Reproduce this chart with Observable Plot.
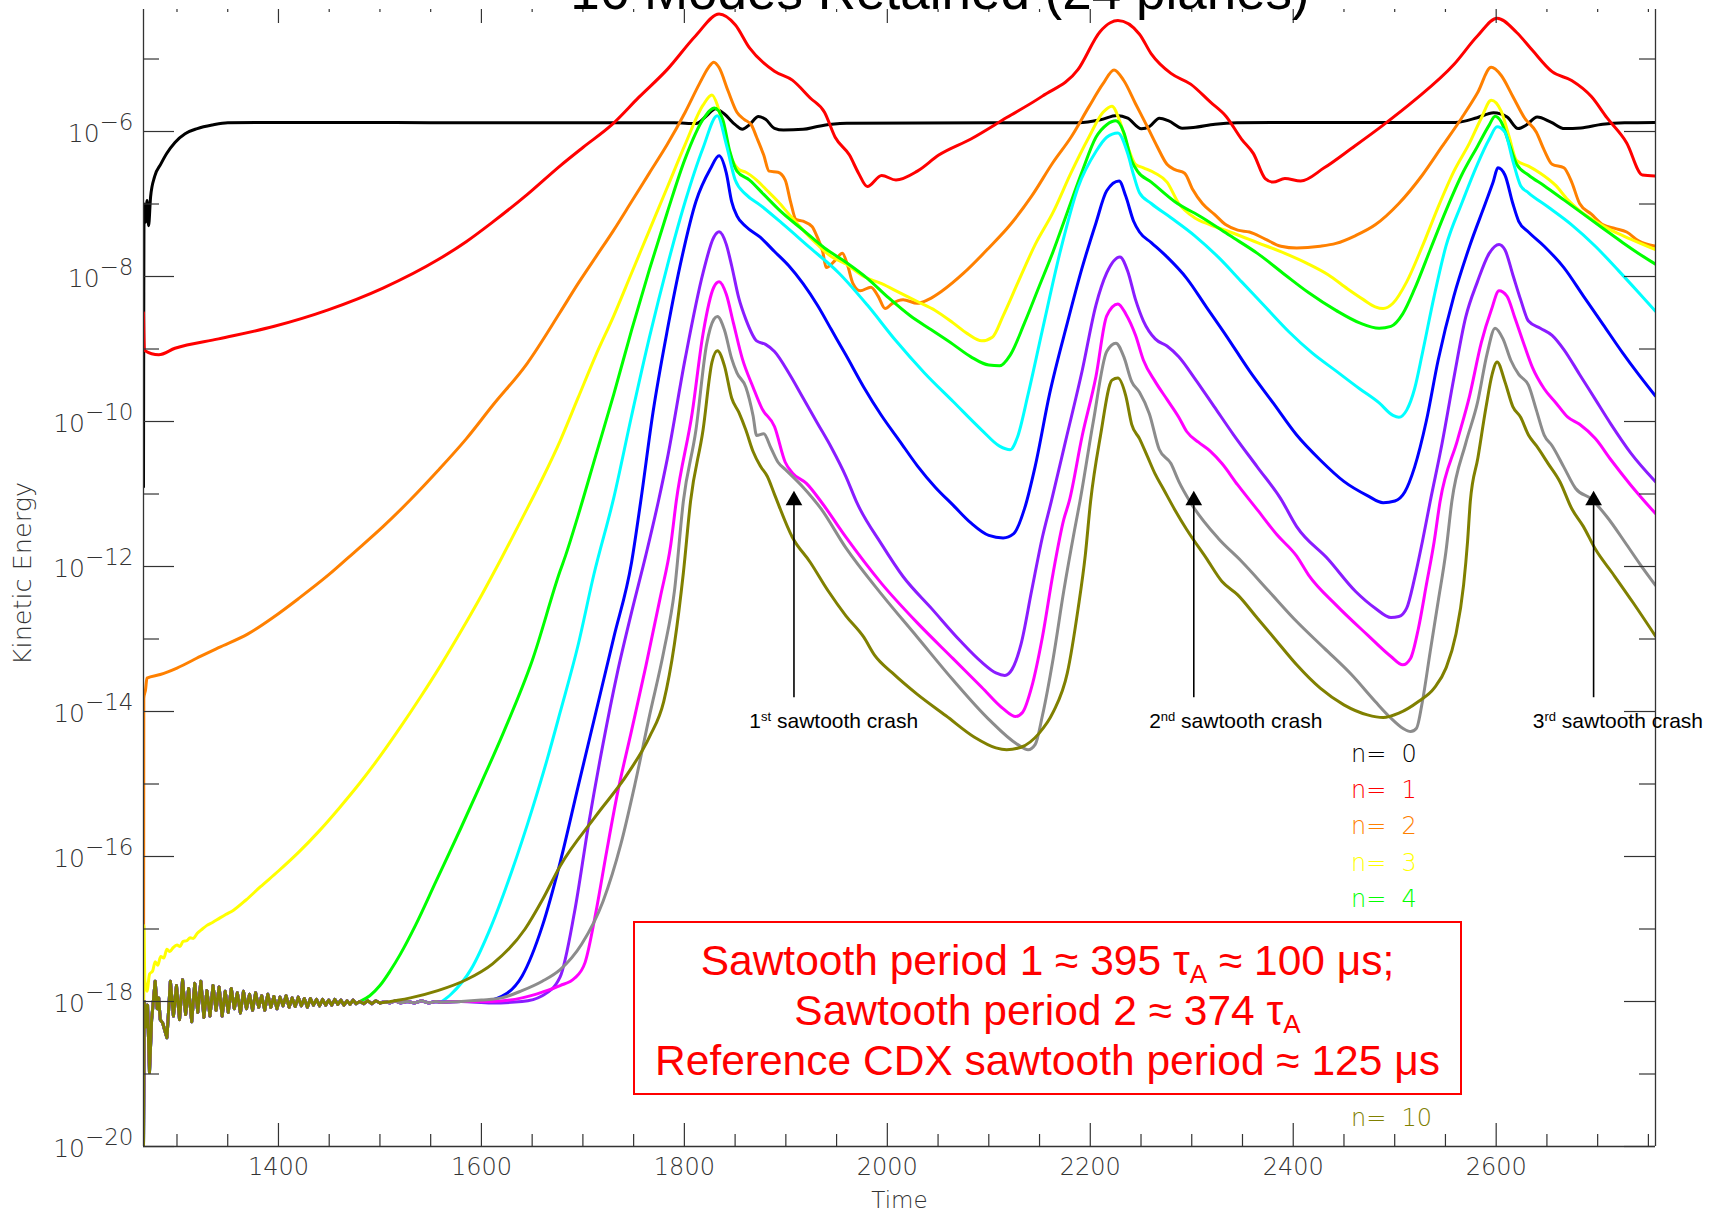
<!DOCTYPE html>
<html><head><meta charset="utf-8">
<script src="https://cdn.jsdelivr.net/npm/d3@7"></script>
<script src="https://cdn.jsdelivr.net/npm/@observablehq/plot@0.6"></script>
<style>
html,body{margin:0;padding:0;background:#fff;}
#wrap{position:relative;width:1716px;height:1217px;overflow:hidden;background:#fff;}
#chart{position:absolute;left:0;top:0;}
#cover{position:absolute;left:0;top:0;width:1716px;height:9px;background:#fff;z-index:2;}
#title{position:absolute;left:940px;top:-36px;transform:translateX(-50%);font-family:"Liberation Sans",Arial,sans-serif;font-size:53px;line-height:53px;color:#000;white-space:nowrap;z-index:3;}
.leg{position:absolute;font-family:"DejaVu Sans",sans-serif;font-weight:200;font-size:24px;line-height:24px;white-space:pre;z-index:4;}
#box{position:absolute;left:633px;top:921px;width:829px;height:174px;box-sizing:border-box;border:2px solid #f00;background:#fff;color:#f00;font-family:"Liberation Sans",Arial,sans-serif;font-size:42.5px;line-height:50px;text-align:center;padding-top:13px;z-index:5;white-space:nowrap;}
.sub{font-size:26px;position:relative;top:8px;line-height:0;}
</style>
</head><body>
<div id="wrap">
  <div id="chart"></div>
  <div id="cover"></div>
  <div id="title">16 Modes Retained (24 planes)</div>
  <div id="box">Sawtooth period 1 ≈ 395 τ<span class="sub">A</span> ≈ 100 μs;<br>Sawtooth period 2 ≈ 374 τ<span class="sub">A</span><br>Reference CDX sawtooth period ≈ 125 μs</div>
</div>
<script>
// ---- data: [time, log10(kinetic energy)] ----
const modes = [0,1,2,3,4,5,6,7,8,9,10];
const modeColors = ["#000000","#ff0000","#ff8000","#ffff00","#00ff00","#00ffff","#0000ff","#8a1cff","#ff00ff","#8c8c8c","#808000"];

const xMajor = [1400,1600,1800,2000,2200,2400,2600];
const xMinor = [1300,1350,1450,1500,1550,1650,1700,1750,1850,1900,1950,2050,2100,2150,2250,2300,2350,2450,2500,2550,2650,2700,2750];
const yMajorExp = [-6,-8,-10,-12,-14,-16,-18,-20];
const yMinorExp = [-5,-7,-9,-11,-13,-15,-17,-19];

const crashT = [1908, 2302, 2696];
const crashLabelT = [1864, 2258, 2636];
const crashOrdinal = ["1st","2nd","3rd"];
const arrowLowExp = -13.81, arrowTipExp = -10.95, crashLabelExp = -14.14;

const n0 = [[1267,-10.9],[1267.6,-7.0],[1269,-7.25],[1270.5,-6.95],[1272,-7.3],[1274,-6.9],[1278,-6.62],[1284,-6.45],[1290,-6.3],[1298,-6.15],[1308,-6.03],[1320,-5.96],[1335,-5.91],[1350,-5.88],[1400,-5.875],[1500,-5.875],[1600,-5.88],[1700,-5.88],[1790,-5.88],[1811.4,-5.89],[1821.9,-5.783],[1830.7,-5.685],[1839.5,-5.759],[1850.1,-5.906],[1857.1,-5.97],[1864.2,-5.906],[1873,-5.793],[1880,-5.832],[1888.8,-5.956],[1897.6,-5.98],[1917,-5.97],[1931,-5.931],[1945.1,-5.9],[1960,-5.885],[2100,-5.88],[2188.5,-5.88],[2210,-5.839],[2226.2,-5.779],[2236.9,-5.816],[2250.4,-5.963],[2258.4,-5.931],[2268.1,-5.816],[2277.3,-5.853],[2290.7,-5.954],[2301.5,-5.945],[2323,-5.899],[2344.5,-5.88],[2400,-5.875],[2500,-5.875],[2559.7,-5.875],[2581.2,-5.81],[2597.4,-5.74],[2610.8,-5.8],[2621.6,-5.96],[2629.7,-5.91],[2640.4,-5.8],[2653.9,-5.87],[2667.3,-5.96],[2683.5,-5.95],[2705,-5.9],[2726.5,-5.88],[2757,-5.875]];

const n1 = [[1267,-8.5],[1268,-9.02],[1282,-9.08],[1298,-8.99],[1341,-8.86],[1395,-8.69],[1449,-8.46],[1503,-8.16],[1557,-7.77],[1585,-7.52],[1611,-7.25],[1645,-6.87],[1677.6,-6.473],[1700,-6.22],[1728.6,-5.906],[1755,-5.53],[1783.2,-5.143],[1811.4,-4.675],[1834.2,-4.379],[1850.1,-4.527],[1864.2,-4.847],[1888.8,-5.168],[1906.4,-5.291],[1924,-5.537],[1938.1,-5.734],[1948.6,-6.079],[1962.7,-6.325],[1971.5,-6.571],[1980.3,-6.759],[1994.4,-6.606],[2008.5,-6.67],[2029.6,-6.547],[2050.7,-6.325],[2082.4,-6.103],[2117.6,-5.808],[2152.8,-5.512],[2188,-5.143],[2209.8,-4.62],[2219.7,-4.5],[2227.2,-4.47],[2248.5,-4.658],[2260.1,-4.929],[2279.5,-5.199],[2298.9,-5.346],[2318.2,-5.592],[2333.7,-5.789],[2349.2,-6.108],[2360.8,-6.305],[2372.4,-6.649],[2380.2,-6.698],[2391.8,-6.649],[2407.3,-6.683],[2430.5,-6.501],[2457.6,-6.231],[2488.6,-5.912],[2519.6,-5.568],[2558.3,-5.076],[2581.5,-4.683],[2600.9,-4.437],[2620.2,-4.634],[2635.7,-4.88],[2655.1,-5.174],[2674.4,-5.297],[2693.8,-5.518],[2709.3,-5.813],[2728.6,-6.157],[2744.1,-6.6],[2757,-6.614]];

const n2 = [[1267,-19.9],[1267.3,-13.82],[1269,-13.7],[1270.4,-13.54],[1283.5,-13.49],[1300,-13.4],[1323,-13.24],[1341,-13.12],[1370,-12.93],[1395,-12.7],[1420,-12.44],[1449,-12.12],[1475,-11.8],[1503,-11.45],[1530,-11.08],[1557,-10.68],[1585,-10.24],[1611,-9.78],[1645,-9.2],[1677.6,-8.493],[1695.2,-8.099],[1712.8,-7.729],[1730.4,-7.36],[1748,-6.966],[1765.6,-6.571],[1783.2,-6.177],[1800.8,-5.734],[1814.9,-5.34],[1823.7,-5.118],[1829,-5.044],[1834.2,-5.118],[1843,-5.438],[1851.8,-5.734],[1858.9,-5.832],[1865.9,-5.906],[1871.2,-6.079],[1878.2,-6.325],[1883.5,-6.547],[1892.3,-6.562],[1899.4,-6.67],[1904.6,-6.966],[1909.9,-7.212],[1916.9,-7.237],[1925.8,-7.31],[1931,-7.458],[1936.3,-7.655],[1939.8,-7.877],[1948.6,-7.778],[1955.7,-7.68],[1961,-7.852],[1966.2,-8.099],[1973.3,-8.197],[1983.8,-8.148],[1990.9,-8.271],[1997.9,-8.443],[2005,-8.37],[2015.5,-8.32],[2029.6,-8.37],[2040.2,-8.32],[2054.2,-8.197],[2075.4,-7.951],[2100,-7.606],[2121.1,-7.286],[2142.2,-6.892],[2163.4,-6.424],[2181,-6.079],[2198.6,-5.66],[2212.6,-5.34],[2223.4,-5.15],[2233,-5.297],[2244.6,-5.617],[2256.3,-5.936],[2265.9,-6.206],[2275.6,-6.452],[2283.4,-6.526],[2293,-6.575],[2300.8,-6.796],[2310.5,-6.993],[2322.1,-7.14],[2333.7,-7.287],[2345.3,-7.361],[2356.9,-7.386],[2372.4,-7.484],[2387.9,-7.582],[2403.4,-7.607],[2426.6,-7.582],[2442.1,-7.543],[2461.5,-7.435],[2480.8,-7.287],[2504.1,-6.993],[2527.3,-6.6],[2546.7,-6.206],[2566,-5.813],[2581.5,-5.469],[2595.1,-5.115],[2604.8,-5.224],[2616.4,-5.516],[2628,-5.813],[2639.6,-6.01],[2647.3,-6.256],[2655.1,-6.452],[2666.7,-6.501],[2674.4,-6.698],[2682.2,-6.993],[2693.8,-7.14],[2705.4,-7.287],[2717,-7.337],[2728.6,-7.386],[2740.3,-7.509],[2757,-7.582]];

const n3 = [[1267,-20],[1267.4,-16.95],[1268.3,-17.7],[1270.4,-17.86],[1273,-17.62],[1276,-17.58],[1278.5,-17.45],[1281,-17.5],[1284,-17.38],[1287,-17.4],[1290.1,-17.28],[1293,-17.31],[1296,-17.26],[1300,-17.22],[1303,-17.24],[1306,-17.17],[1309.8,-17.16],[1313,-17.12],[1316,-17.13],[1320,-17.06],[1325,-17.0],[1329.5,-16.95],[1335,-16.91],[1342,-16.85],[1348,-16.8],[1355.7,-16.74],[1368,-16.6],[1382,-16.42],[1400,-16.2],[1420,-15.94],[1440,-15.65],[1460,-15.33],[1480,-14.99],[1500,-14.62],[1520,-14.22],[1540,-13.8],[1560,-13.36],[1580,-12.89],[1600,-12.4],[1620,-11.88],[1640,-11.34],[1660,-10.79],[1677.6,-10.266],[1695.2,-9.675],[1712.8,-9.084],[1730.4,-8.542],[1748,-7.951],[1765.6,-7.36],[1783.2,-6.769],[1800.8,-6.177],[1818.4,-5.636],[1827.2,-5.498],[1832.5,-5.636],[1839.5,-6.03],[1846.6,-6.374],[1853.6,-6.522],[1860.6,-6.562],[1871.2,-6.67],[1881.8,-6.818],[1892.3,-6.966],[1902.9,-7.138],[1917,-7.36],[1931,-7.557],[1945.1,-7.729],[1959.2,-7.828],[1976.8,-8.0],[1994.4,-8.099],[2012,-8.222],[2029.6,-8.345],[2047.2,-8.468],[2064.8,-8.64],[2078.9,-8.788],[2093,-8.887],[2103.5,-8.837],[2114.1,-8.542],[2128.2,-8.099],[2145.8,-7.557],[2163.4,-7.113],[2181,-6.571],[2198.6,-6.079],[2212.6,-5.734],[2221.4,-5.65],[2229.2,-5.862],[2236.9,-6.206],[2244.6,-6.452],[2252.4,-6.501],[2264,-6.575],[2275.6,-6.698],[2287.2,-6.993],[2302.7,-7.189],[2318.2,-7.287],[2337.6,-7.386],[2364.7,-7.533],[2391.8,-7.681],[2415,-7.828],[2434.4,-7.975],[2453.7,-8.172],[2469.2,-8.319],[2480.8,-8.418],[2488.6,-8.442],[2498.3,-8.369],[2511.8,-8.074],[2527.3,-7.582],[2542.8,-7.042],[2558.3,-6.55],[2573.8,-6.157],[2585.4,-5.813],[2595.1,-5.568],[2604.8,-5.715],[2612.5,-6.059],[2620.2,-6.403],[2631.8,-6.477],[2643.5,-6.575],[2658.9,-6.747],[2670.6,-6.943],[2682.2,-7.091],[2697.7,-7.238],[2713.2,-7.361],[2732.5,-7.484],[2757,-7.63]];

// early noisy band shared by the higher modes (n = 4 ... 10)
const noiseBand = [[1267,-20],[1267.7,-18.0],[1269.5,-18.35],[1271,-18.05],[1272.9,-18.98],[1275,-18.25],[1277,-17.95],[1278.5,-17.72],[1280.5,-18.1],[1282,-17.95],[1283.5,-18.25],[1286,-18.3],[1288,-18.4],[1290.1,-18.5],[1293.5,-17.72],[1296.5,-18.2],[1299.5,-17.78],[1302.5,-18.25],[1305.5,-17.7],[1308.5,-18.18],[1311.5,-17.82],[1314.5,-18.28],[1317.5,-17.75],[1320.5,-18.15],[1323.5,-17.72],[1326.5,-18.22],[1329.5,-17.85],[1332.5,-18.2],[1335.5,-17.78],[1338.5,-18.12],[1341.5,-17.8],[1344.5,-18.2],[1347.5,-17.86],[1350.5,-18.15],[1353.5,-17.82],[1356.5,-18.1],[1359.5,-17.88],[1362.5,-18.16],[1365.5,-17.86],[1368.5,-18.1],[1371.5,-17.9],[1374.5,-18.12],[1377.5,-17.88],[1380.5,-18.08],[1383.5,-17.92],[1386.5,-18.12],[1389.5,-17.9],[1392.5,-18.08],[1395.5,-17.93],[1398.5,-18.1],[1401.5,-17.94],[1404.5,-18.06],[1407.5,-17.92],[1410.5,-18.08],[1413.5,-17.95],[1416.5,-18.07],[1419.5,-17.94],[1422.5,-18.06],[1425.5,-17.96],[1428.5,-18.08],[1431.5,-17.96],[1434.5,-18.05],[1437.5,-17.97],[1440.5,-18.06],[1443.5,-17.97],[1446.5,-18.05],[1449.5,-17.98],[1452.5,-18.05],[1455.5,-17.97],[1458.5,-18.04],[1461.5,-17.98],[1464.5,-18.05],[1467.5,-17.99],[1470.5,-18.04],[1473.5,-17.98],[1476.5,-18.03],[1480,-18.0],[1484,-18.03],[1488,-17.99],[1492,-18.03],[1496,-17.99],[1500,-18.02],[1505,-18.0],[1510,-18.02],[1515,-17.99],[1520,-18.02],[1527,-18.0],[1534,-18.02],[1541,-17.99],[1548,-18.02],[1555,-18.0],[1560,-18.01]];

const n4Rise = [[1490,-17.92],[1500,-17.78],[1510,-17.58],[1520,-17.35],[1535,-16.95],[1555,-16.35],[1580,-15.6],[1600,-14.98],[1622,-14.28],[1650,-13.3],[1677.6,-12.06],[1682.9,-11.85],[1695.2,-11.301],[1712.8,-10.463],[1730.4,-9.626],[1748,-8.739],[1765.6,-7.902],[1783.2,-7.113],[1800.8,-6.374],[1818.4,-5.833],[1829.7,-5.675],[1837.8,-5.833],[1844.8,-6.276],[1851.8,-6.547],[1864.2,-6.67],[1878.2,-6.867],[1895.8,-7.113],[1917,-7.36],[1938.1,-7.606],[1959.2,-7.803],[1980.3,-8.025],[2001.4,-8.296],[2022.6,-8.542],[2043.7,-8.739],[2064.8,-8.936],[2082.4,-9.108],[2100,-9.222],[2110.6,-9.232],[2121.1,-9.084],[2135.2,-8.64],[2149.3,-8.148],[2163.4,-7.655],[2177.4,-7.113],[2191.5,-6.571],[2205.6,-6.079],[2216.2,-5.906],[2225.3,-5.853],[2233,-6.01],[2240.8,-6.403],[2246.6,-6.55],[2260.1,-6.698],[2283.4,-6.968],[2310.5,-7.189],[2337.6,-7.435],[2364.7,-7.681],[2391.8,-7.975],[2415,-8.221],[2442.1,-8.467],[2465.4,-8.639],[2484.7,-8.713],[2496.3,-8.688],[2507.9,-8.516],[2519.6,-8.172],[2535,-7.631],[2550.5,-7.091],[2566,-6.6],[2581.5,-6.206],[2593.1,-5.912],[2598.9,-5.789],[2604.8,-5.862],[2612.5,-6.157],[2620.2,-6.452],[2631.8,-6.6],[2647.3,-6.747],[2666.7,-6.943],[2686,-7.14],[2705.4,-7.337],[2724.8,-7.533],[2740.3,-7.681],[2757,-7.83]];

const n5Rise = [[1570,-17.9],[1590,-17.55],[1610,-16.95],[1630,-16.2],[1650,-15.35],[1665,-14.65],[1677.6,-14.01],[1695,-13.1],[1711,-12.1],[1730.4,-11.054],[1748,-9.921],[1765.6,-8.837],[1783.2,-7.852],[1800.8,-6.966],[1818.4,-6.227],[1832.5,-5.783],[1841.3,-6.177],[1850.1,-6.67],[1860.6,-6.867],[1874.7,-7.015],[1895.8,-7.261],[1924,-7.606],[1952.2,-7.951],[1980.3,-8.394],[2008.5,-8.887],[2036.6,-9.33],[2064.8,-9.724],[2093,-10.118],[2110.6,-10.34],[2121.1,-10.389],[2128.2,-10.217],[2138.7,-9.626],[2152.8,-8.739],[2170.4,-7.655],[2188,-6.768],[2205.6,-6.276],[2216.2,-6.079],[2227.2,-6.02],[2236.9,-6.305],[2242.7,-6.6],[2248.5,-6.845],[2260.1,-6.993],[2279.5,-7.189],[2302.7,-7.435],[2325.9,-7.73],[2349.2,-8.074],[2372.4,-8.418],[2395.7,-8.762],[2418.9,-9.057],[2442.1,-9.302],[2465.4,-9.548],[2484.7,-9.744],[2498.3,-9.916],[2504.1,-9.941],[2511.8,-9.843],[2519.6,-9.548],[2527.3,-9.057],[2538.9,-8.27],[2550.5,-7.582],[2566,-6.993],[2581.5,-6.452],[2593.1,-6.108],[2600.9,-5.936],[2608.6,-6.01],[2616.4,-6.403],[2624.1,-6.747],[2631.8,-6.845],[2651.2,-7.042],[2674.4,-7.287],[2697.7,-7.582],[2721,-7.926],[2740.3,-8.221],[2757,-8.48]];

const n6Rise = [[1580,-18.0],[1600,-18.0],[1620,-17.93],[1640,-17.65],[1660,-16.96],[1677.6,-16.08],[1695.2,-15.04],[1712.8,-14.01],[1730.4,-12.98],[1748,-11.94],[1757,-11.1],[1769.1,-9.872],[1783.2,-8.739],[1797.3,-7.754],[1811.4,-6.966],[1825.4,-6.522],[1834.2,-6.335],[1841.3,-6.571],[1846.6,-6.966],[1851.8,-7.163],[1860.6,-7.31],[1874.7,-7.458],[1888.8,-7.655],[1902.9,-7.852],[1917,-8.099],[1931,-8.394],[1945.1,-8.739],[1959.2,-9.084],[1976.8,-9.527],[1994.4,-9.921],[2012,-10.266],[2029.6,-10.611],[2047.2,-10.906],[2064.8,-11.153],[2082.4,-11.399],[2100,-11.571],[2114.1,-11.606],[2124.6,-11.547],[2135.2,-11.202],[2145.8,-10.611],[2159.8,-9.626],[2177.4,-8.64],[2191.5,-7.902],[2205.6,-7.261],[2216.2,-6.818],[2228.4,-6.683],[2235,-6.894],[2242.7,-7.238],[2248.5,-7.386],[2260.1,-7.533],[2275.6,-7.73],[2295,-8.025],[2314.3,-8.418],[2333.7,-8.811],[2356.9,-9.302],[2380.2,-9.744],[2403.4,-10.187],[2426.6,-10.531],[2449.9,-10.826],[2473.1,-11.022],[2488.6,-11.12],[2500.2,-11.096],[2509.9,-10.973],[2519.6,-10.629],[2531.2,-9.99],[2542.8,-9.155],[2558.3,-8.27],[2573.8,-7.582],[2589.3,-6.993],[2597,-6.698],[2601.7,-6.501],[2608.6,-6.6],[2616.4,-6.993],[2622.2,-7.238],[2631.8,-7.386],[2647.3,-7.582],[2666.7,-7.877],[2686,-8.27],[2705.4,-8.663],[2724.8,-9.057],[2740.3,-9.351],[2757,-9.65]];

const n7Rise = [[1580,-18.0],[1610,-18.02],[1640,-18.0],[1660,-17.92],[1677.6,-17.66],[1691.7,-16.77],[1705.8,-15.54],[1719.8,-14.45],[1733.9,-13.47],[1748,-12.63],[1762.1,-11.84],[1774.4,-11.1],[1783.2,-10.512],[1800.8,-9.133],[1818.4,-7.951],[1829,-7.458],[1834.2,-7.384],[1841.3,-7.557],[1846.6,-7.852],[1853.6,-8.296],[1860.6,-8.591],[1871.2,-8.887],[1880,-8.936],[1888.8,-9.034],[1902.9,-9.33],[1917,-9.675],[1931,-10.02],[1945.1,-10.365],[1959.2,-10.759],[1970,-11.12],[1994.4,-11.695],[2015.5,-12.138],[2043.7,-12.581],[2071.8,-13.025],[2093,-13.32],[2107,-13.468],[2115.8,-13.502],[2122.9,-13.419],[2131.7,-13.074],[2142.2,-12.335],[2152.8,-11.596],[2161.6,-11.103],[2176,-10.25],[2192,-9.3],[2205.6,-8.394],[2216.2,-7.951],[2229.2,-7.73],[2236.9,-7.926],[2244.6,-8.319],[2252.4,-8.614],[2264,-8.86],[2275.6,-8.958],[2287.2,-9.106],[2302.7,-9.4],[2322.1,-9.794],[2341.4,-10.187],[2364.7,-10.629],[2387.9,-11.07],[2403.4,-11.45],[2434.4,-11.9],[2461.5,-12.345],[2480.8,-12.575],[2496.3,-12.703],[2504.1,-12.69],[2511.8,-12.575],[2519.6,-12.161],[2527.3,-11.655],[2535,-11.103],[2546.7,-10.3],[2558.3,-9.4],[2569.9,-8.565],[2581.5,-8.074],[2593.1,-7.681],[2602.8,-7.558],[2608.6,-7.631],[2616.4,-7.975],[2624.1,-8.319],[2631.8,-8.614],[2643.5,-8.713],[2655.1,-8.811],[2666.7,-9.007],[2682.2,-9.351],[2697.7,-9.695],[2713.2,-10.039],[2732.5,-10.432],[2757,-10.83]];

const n8Rise = [[1580,-18.0],[1610,-18.0],[1640,-17.95],[1660,-17.87],[1677.6,-17.78],[1691.7,-17.68],[1702.2,-17.46],[1712.8,-16.77],[1723.4,-15.93],[1733.9,-15.14],[1748,-14.26],[1762.1,-13.37],[1776.2,-12.43],[1786.7,-11.69],[1792,-11.1],[1807.8,-9.872],[1818.4,-8.788],[1829,-8.148],[1834.2,-8.074],[1841.3,-8.246],[1848.3,-8.64],[1857.1,-9.133],[1867.7,-9.527],[1876.5,-9.823],[1888.8,-10.069],[1899.4,-10.562],[1906.4,-10.709],[1920.5,-10.857],[1934.6,-11.103],[1959.2,-11.596],[1994.4,-12.236],[2029.6,-12.778],[2064.8,-13.271],[2093,-13.665],[2114.1,-13.961],[2126.4,-14.069],[2133.4,-14.01],[2142.2,-13.665],[2152.8,-12.975],[2163.4,-12.089],[2173.9,-11.35],[2179.2,-11.103],[2192,-10.2],[2205.6,-9.379],[2216.2,-8.542],[2227.2,-8.378],[2235,-8.516],[2244.6,-8.811],[2252.4,-9.155],[2264,-9.45],[2275.6,-9.695],[2287.2,-9.941],[2295,-10.138],[2306.6,-10.285],[2318.2,-10.408],[2329.8,-10.58],[2345.3,-10.875],[2364.7,-11.219],[2384,-11.563],[2403.4,-11.857],[2415,-12.115],[2442.1,-12.529],[2473.1,-12.943],[2496.3,-13.241],[2507.9,-13.356],[2515.7,-13.264],[2523.4,-12.851],[2531.2,-12.253],[2538.9,-11.655],[2544.7,-11.103],[2562,-10.25],[2573.8,-9.646],[2585.4,-8.909],[2595.1,-8.467],[2602.8,-8.197],[2610.6,-8.27],[2618.3,-8.565],[2628,-8.958],[2635.7,-9.253],[2647.3,-9.548],[2658.9,-9.744],[2670.6,-9.941],[2682.2,-10.039],[2697.7,-10.236],[2713.2,-10.531],[2732.5,-10.875],[2757,-11.27]];

const n9Rise = [[1580,-18.0],[1600,-17.98],[1620,-17.95],[1640,-17.85],[1660,-17.72],[1677.6,-17.56],[1698.7,-17.21],[1719.8,-16.62],[1737.4,-15.83],[1751.5,-14.99],[1765.6,-14.06],[1779.7,-13.17],[1790.2,-12.34],[1799,-11.1],[1811.4,-10.118],[1821.9,-8.936],[1829,-8.591],[1832.5,-8.552],[1839.5,-8.739],[1846.6,-9.133],[1851.8,-9.33],[1860.6,-9.527],[1867.7,-9.921],[1871.2,-10.192],[1878.2,-10.168],[1885.3,-10.365],[1892.3,-10.562],[1899.4,-10.66],[1917,-10.906],[1934.6,-11.202],[1959.2,-11.744],[1994.4,-12.384],[2029.6,-12.975],[2064.8,-13.566],[2100,-14.108],[2128.2,-14.453],[2138.7,-14.527],[2145.8,-14.453],[2152.8,-14.059],[2163.4,-13.271],[2173.9,-12.335],[2184.5,-11.497],[2189.8,-11.103],[2203,-10.0],[2216.2,-9.034],[2225.3,-8.919],[2233,-9.106],[2240.8,-9.45],[2248.5,-9.597],[2258.2,-9.892],[2267.9,-10.383],[2279.5,-10.58],[2287.2,-10.826],[2298.9,-11.12],[2326,-11.61],[2349.2,-11.931],[2376.3,-12.345],[2403.4,-12.759],[2430.5,-13.126],[2457.6,-13.494],[2480.8,-13.862],[2496.3,-14.092],[2507.9,-14.23],[2515.7,-14.276],[2521.5,-14.23],[2527.3,-13.862],[2535,-13.172],[2542.8,-12.483],[2550.5,-11.793],[2556.3,-11.103],[2570,-10.3],[2581.5,-9.744],[2591.2,-9.057],[2598.9,-8.713],[2606.7,-8.86],[2614.4,-9.155],[2622.2,-9.351],[2631.8,-9.499],[2639.6,-9.843],[2647.3,-10.187],[2655.1,-10.334],[2666.7,-10.629],[2678.3,-10.924],[2693.8,-11.071],[2709.3,-11.317],[2728.6,-11.7],[2742.2,-11.977],[2757,-12.26]];

const n10Rise = [[1530,-17.95],[1557,-17.85],[1585,-17.7],[1611,-17.48],[1643,-17.0],[1660,-16.6],[1677.6,-16.13],[1712.8,-15.44],[1744.5,-14.85],[1765.6,-14.35],[1779.7,-13.86],[1790.2,-13.07],[1799,-12.09],[1806.1,-11.1],[1818.4,-10.118],[1827.2,-9.182],[1832.5,-9.025],[1839.5,-9.232],[1846.6,-9.675],[1853.6,-9.872],[1860.6,-10.118],[1867.7,-10.414],[1874.7,-10.611],[1881.8,-10.759],[1888.8,-11.005],[1906.4,-11.596],[1924,-11.941],[1941.6,-12.335],[1959.2,-12.68],[1976.8,-12.975],[1987.4,-13.222],[2005,-13.468],[2029.6,-13.764],[2057.8,-14.059],[2085.9,-14.355],[2107,-14.502],[2117.6,-14.527],[2131.7,-14.493],[2149.3,-14.305],[2163.4,-14.01],[2177.4,-13.468],[2188,-12.581],[2195.1,-11.842],[2200.3,-11.103],[2210,-10.2],[2221.4,-9.429],[2227.2,-9.4],[2235,-9.646],[2240.8,-10.039],[2248.5,-10.236],[2256.3,-10.482],[2264,-10.727],[2271.8,-10.924],[2283.4,-11.219],[2295,-11.49],[2314.3,-11.885],[2329.8,-12.207],[2345.3,-12.391],[2364.7,-12.713],[2384,-13.034],[2403.4,-13.356],[2426.6,-13.678],[2449.9,-13.908],[2473.1,-14.046],[2488.6,-14.083],[2504.1,-14.023],[2523.4,-13.862],[2538.9,-13.678],[2550.5,-13.402],[2560.2,-12.942],[2567.9,-12.253],[2571.8,-11.655],[2574.5,-11.103],[2582,-10.5],[2590,-9.8],[2596,-9.35],[2600.9,-9.179],[2608.6,-9.45],[2616.4,-9.794],[2624.1,-9.941],[2631.8,-10.187],[2639.6,-10.334],[2651.2,-10.58],[2662.8,-10.83],[2674.4,-11.2],[2686,-11.45],[2697.7,-11.76],[2715,-12.1],[2735,-12.5],[2757,-12.96]];

const bandEnd = [null,null,null,null,1480,1560,1560,1560,1560,1560,1500];
const rises = [null,null,null,null,n4Rise,n5Rise,n6Rise,n7Rise,n8Rise,n9Rise,n10Rise];
const direct = [n0,n1,n2,n3];

// ---- layout ----
const W = 1716, H = 1217, mL = 143, mR = 61, mT = 0, mB = 71;
const fw = W - mL - mR, fh = H - mT - mB;
const xDomain = [1267, 2757];
const yDomain = [1e-20, Math.pow(10, -4.193)];
const axisColor = "#333";
const tickFont = "DejaVu Sans, sans-serif";
const pow10 = e => Math.pow(10, e);

const lineOpts = (color, curve) => ({
  x: d => d[0], y: d => pow10(d[1]), stroke: color, strokeWidth: 3,
  curve, strokeLinejoin: "round", strokeLinecap: "round", clip: true
});
const lineMarks = [];
modes.forEach(n => {
  if (n < 4) {
    lineMarks.push(Plot.line(direct[n], lineOpts(modeColors[n], "monotone-x")));
  } else {
    const band = noiseBand.filter(p => p[0] <= bandEnd[n]);
    const rise = [band[band.length - 1]].concat(rises[n]);
    lineMarks.push(Plot.line(band, lineOpts(modeColors[n], "linear")));
    lineMarks.push(Plot.line(rise, lineOpts(modeColors[n], "monotone-x")));
  }
});

const svg = Plot.plot({
  width: W, height: H,
  marginLeft: mL, marginRight: mR, marginTop: mT, marginBottom: mB,
  style: {background: "transparent", fontFamily: tickFont, overflow: "visible"},
  x: {domain: xDomain, axis: null},
  y: {type: "log", domain: yDomain, axis: null},
  marks: [
    ...lineMarks,
    // box axes
    Plot.ruleX([xDomain[0]], {stroke: axisColor, strokeWidth: 1.3}),
    Plot.ruleX([xDomain[1]], {stroke: axisColor, strokeWidth: 1.3}),
    Plot.ruleY([yDomain[0]], {stroke: axisColor, strokeWidth: 1.5}),
    // y ticks (inward, both sides)
    Plot.ruleY(yMajorExp.map(pow10), {insetRight: fw - 31, stroke: axisColor, strokeWidth: 1.2}),
    Plot.ruleY(yMajorExp.map(pow10), {insetLeft: fw - 31, stroke: axisColor, strokeWidth: 1.2}),
    Plot.ruleY(yMinorExp.map(pow10), {insetRight: fw - 16, stroke: axisColor, strokeWidth: 1.2}),
    Plot.ruleY(yMinorExp.map(pow10), {insetLeft: fw - 16, stroke: axisColor, strokeWidth: 1.2}),
    // x ticks (inward, bottom and top)
    Plot.ruleX(xMajor, {insetTop: fh - 23, stroke: axisColor, strokeWidth: 1.2}),
    Plot.ruleX(xMajor, {insetBottom: fh - 23, stroke: axisColor, strokeWidth: 1.2}),
    Plot.ruleX(xMinor, {insetTop: fh - 12, stroke: axisColor, strokeWidth: 1.2}),
    Plot.ruleX(xMinor, {insetBottom: fh - 12, stroke: axisColor, strokeWidth: 1.2}),
    // tick labels
    Plot.text(xMajor, {x: d => d, frameAnchor: "bottom", dy: 28, text: d => String(d), fontSize: 24, fontWeight: 200, fill: axisColor, fontFamily: tickFont}),
    Plot.text(yMajorExp, {y: d => pow10(d), frameAnchor: "left", dx: -10, dy: 2, textAnchor: "end", text: d => "10^" + String(d).replace("-", "\u2212"), fontSize: 25, fontWeight: 200, fill: axisColor, fontFamily: tickFont}),
    // axis titles
    Plot.text(["Time"], {frameAnchor: "bottom", dy: 61, text: d => d, textAnchor: "middle", fontSize: 23, fontWeight: 200, fill: axisColor, fontFamily: tickFont}),
    Plot.text(["Kinetic Energy"], {frameAnchor: "left", dx: -120.4, rotate: -90, text: d => d, textAnchor: "middle", fontSize: 25.5, fontWeight: 200, fill: axisColor, fontFamily: tickFont}),
    // sawtooth crash annotations
    Plot.ruleX(crashT, {y1: () => pow10(arrowLowExp), y2: () => pow10(arrowTipExp - 0.12), stroke: "#000", strokeWidth: 1.6}),
    Plot.dot(crashT, {x: d => d, y: () => pow10(arrowTipExp), dy: 10, symbol: "triangle", r: 6.2, fill: "#000", stroke: "none"}),
    Plot.text(crashLabelT, {x: d => d, y: () => pow10(crashLabelExp), text: (d, i) => crashOrdinal[i] + " sawtooth crash", textAnchor: "start", fontSize: 21, fill: "#000", fontFamily: "Liberation Sans, Arial, sans-serif"})
  ]
});

// superscripts for tick labels and ordinals
const NS = "http://www.w3.org/2000/svg";
svg.querySelectorAll("text").forEach(el => {
  const s = el.textContent;
  let m = s.match(/^10\^(.+)$/);
  if (m) {
    el.textContent = "10";
    const ts = document.createElementNS(NS, "tspan");
    ts.setAttribute("dy", "-12");
    ts.setAttribute("font-size", "23");
    ts.textContent = m[1];
    el.appendChild(ts);
    return;
  }
  m = s.match(/^(\d)(st|nd|rd)(.*)$/);
  if (m) {
    el.textContent = m[1];
    const a = document.createElementNS(NS, "tspan");
    a.setAttribute("dy", "-7");
    a.setAttribute("font-size", "13");
    a.textContent = m[2];
    const b = document.createElementNS(NS, "tspan");
    b.setAttribute("dy", "7");
    b.setAttribute("font-size", "21");
    b.setAttribute("style", "white-space:pre");
    b.textContent = m[3];
    el.appendChild(a);
    el.appendChild(b);
  }
});
document.getElementById("chart").appendChild(svg);

// legend (inside plot area, partly covered by the red box as in the original)
d3.select("#wrap").selectAll("div.leg").data(modes).join("div")
  .attr("class", "leg")
  .style("left", "1351px")
  .style("top", (d, i) => (741.5 + i * 36.45) + "px")
  .style("color", d => modeColors[d])
  .text(d => "n=  " + d);
</script>
</body></html>
